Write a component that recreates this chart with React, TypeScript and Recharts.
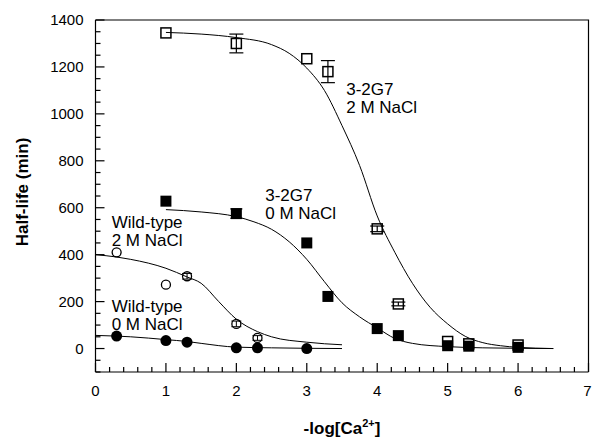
import React from "react";
import {
  ComposedChart,
  XAxis,
  YAxis,
  Line,
  Scatter,
  ErrorBar,
  ReferenceDot,
} from "recharts";

// tick labels
const xMajor = [0, 1, 2, 3, 4, 5, 6, 7];
const yMajor = [0, 200, 400, 600, 800, 1000, 1200, 1400];
const xMinor = Array.from({ length: 36 }, (_, i) => i / 5);
const yMinor = Array.from({ length: 31 }, (_, i) => -100 + i * 50);

// 3-2G7, 2 M NaCl (open squares)
const g7HighX = [1, 2, 3, 3.3, 4, 4.3, 5, 5.3, 6];
const g7HighY = [1345, 1300, 1235, 1180, 510, 190, 30, 20, 15];
const g7HighErr = [0, 40, 0, 47, 12, 8, 0, 0, 0];
const g7HighFitX = [1, 1.5, 2, 2.5, 2.75, 3, 3.25, 3.5, 3.75, 4, 4.25, 4.5, 4.75, 5, 5.25, 5.5, 5.75, 6, 6.5];
const g7HighFitY = [1347, 1340, 1325, 1295, 1258, 1195, 1100, 950, 780, 565, 410, 278, 176, 105, 52, 25, 12, 5, 0];

// 3-2G7, 0 M NaCl (filled squares)
const g7LowX = [1, 2, 3, 3.3, 4, 4.3, 5, 5.3, 6];
const g7LowY = [628, 575, 450, 222, 85, 55, 12, 10, 5];
const g7LowErr = [0, 20, 0, 0, 0, 0, 0, 0, 0];
const g7LowFitX = [1, 1.5, 2, 2.25, 2.5, 2.75, 3, 3.25, 3.5, 3.75, 4, 4.25, 4.5, 5, 5.5, 6, 6.5];
const g7LowFitY = [592, 582, 562, 540, 508, 455, 380, 285, 195, 135, 88, 43, 22, 8, 3, 1, 0];

// wild-type, 2 M NaCl (open circles)
const wtHighX = [0.3, 1, 1.3, 2, 2.3];
const wtHighY = [410, 272, 308, 105, 45];
const wtHighErr = [0, 0, 12, 12, 10];
const wtHighFitX = [0, 0.3, 0.5, 1, 1.3, 1.5, 1.75, 2, 2.3, 2.5, 3, 3.5];
const wtHighFitY = [400, 390, 380, 342, 305, 278, 200, 125, 72, 50, 27, 16];

// wild-type, 0 M NaCl (filled circles)
const wtLowX = [0.3, 1, 1.3, 2, 2.3, 3];
const wtLowY = [53, 34, 27, 3, 3, 0];
const wtLowFitX = [0, 0.3, 0.5, 1, 1.3, 1.5, 2, 2.5, 3, 3.5];
const wtLowFitY = [56, 53, 50, 38, 30, 22, 6, 3, 1, 0];

const pts = (xs: number[], ys: number[], errs?: number[]) =>
  xs.map((x, i) => ({ x, y: ys[i], err: errs ? errs[i] : 0 }));

// frame corners (top and right edges of the plot box)
const frameX = [0, 7, 7];
const frameY = [1400, 1400, -100];

const FONT = "'Liberation Sans', Arial, Helvetica, sans-serif";
const MAJOR = 9;
const MINOR = 5;

const xTickPts = xMinor.map((v) => ({ x: v, y: -100, major: Number.isInteger(v) }));
const yTickPts = yMinor.map((v) => ({ x: 0, y: v, major: v % 200 === 0 }));

const XTick = (props: any) => {
  const { x, y, payload } = props;
  return (
    <text
      x={payload.value === 7 ? x - 1 : x}
      y={y + 23.5}
      textAnchor="middle"
      fontSize={15}
      fontFamily={FONT}
      fill="#000"
    >
      {payload.value}
    </text>
  );
};

const YTick = (props: any) => {
  const { x, y, payload } = props;
  return (
    <text x={x - 12} y={y + 5} textAnchor="end" fontSize={15} fontFamily={FONT} fill="#000">
      {payload.value}
    </text>
  );
};

const isMajor = (p: any) => (p.payload && p.payload.major) || p.major;

// inward tick marks, placed through the scatter layer so they use the axis scales
const XMark = (p: any) => {
  const len = isMajor(p) ? MAJOR : MINOR;
  return <rect x={p.cx - 0.6} y={p.cy - len} width={1.2} height={len} fill="#000" />;
};
const YMark = (p: any) => {
  const len = isMajor(p) ? MAJOR : MINOR;
  return <rect x={p.cx} y={p.cy - 0.6} width={len} height={1.2} fill="#000" />;
};

const OpenSquare = (p: any) => (
  <rect x={p.cx - 5} y={p.cy - 5} width={10} height={10} fill="none" stroke="#000" strokeWidth={1.5} />
);
const FilledSquare = (p: any) => (
  <rect x={p.cx - 5.5} y={p.cy - 5.5} width={11} height={11} fill="#000" />
);
const OpenCircle = (p: any) => (
  <circle cx={p.cx} cy={p.cy} r={4.5} fill="none" stroke="#000" strokeWidth={1.3} />
);
const FilledCircle = (p: any) => <circle cx={p.cx} cy={p.cy} r={5.5} fill="#000" />;

const note = (l1: string, l2: string) => (props: any) => {
  const { viewBox } = props;
  return (
    <text x={viewBox.x} y={viewBox.y} fontSize={17} fontFamily={FONT} fill="#000">
      <tspan x={viewBox.x} dy={6}>{l1}</tspan>
      <tspan x={viewBox.x} dy={18}>{l2}</tspan>
    </text>
  );
};

export default function App() {
  return (
    <div style={{ position: "absolute", left: 0, top: 0, background: "#fff" }}>
      <ComposedChart width={592} height={439} margin={{ top: 20, right: 3.5, bottom: 0, left: 0 }}>
        <XAxis
          dataKey="x"
          type="number"
          domain={[0, 7]}
          ticks={xMajor}
          interval={0}
          tickSize={0}
          tickMargin={0}
          tickLine={false}
          tick={<XTick />}
          height={67}
          axisLine={{ stroke: "#000", strokeWidth: 1.2 }}
          label={() => (
            <text x={342} y={434} textAnchor="middle" fontSize={17} fontWeight="bold" fontFamily={FONT} fill="#000">
              -log[Ca
              <tspan fontSize={11} dy={-7}>2+</tspan>
              <tspan dy={7}>]</tspan>
            </text>
          )}
        />
        <YAxis
          dataKey="y"
          type="number"
          domain={[-100, 1400]}
          ticks={yMajor}
          interval={0}
          tickSize={0}
          tickMargin={0}
          tickLine={false}
          tick={<YTick />}
          width={95.5}
          axisLine={{ stroke: "#000", strokeWidth: 1.2 }}
          label={() => (
            <text
              x={28}
              y={192}
              transform="rotate(-90 28 192)"
              textAnchor="middle"
              fontSize={17}
              fontWeight="bold"
              fontFamily={FONT}
              fill="#000"
            >
              Half-life (min)
            </text>
          )}
        />

        <Line data={pts(frameX, frameY)} dataKey="y" type="linear" stroke="#000" strokeWidth={1.2} dot={false} isAnimationActive={false} />

        <Line data={pts(g7HighFitX, g7HighFitY)} dataKey="y" type="monotone" stroke="#000" strokeWidth={1} dot={false} isAnimationActive={false} />
        <Line data={pts(g7LowFitX, g7LowFitY)} dataKey="y" type="monotone" stroke="#000" strokeWidth={1} dot={false} isAnimationActive={false} />
        <Line data={pts(wtHighFitX, wtHighFitY)} dataKey="y" type="monotone" stroke="#000" strokeWidth={1} dot={false} isAnimationActive={false} />
        <Line data={pts(wtLowFitX, wtLowFitY)} dataKey="y" type="monotone" stroke="#000" strokeWidth={1} dot={false} isAnimationActive={false} />

        <Scatter data={xTickPts} dataKey="y" shape={XMark} isAnimationActive={false} />
        <Scatter data={yTickPts} dataKey="y" shape={YMark} isAnimationActive={false} />

        <Scatter data={pts(g7LowX, g7LowY, g7LowErr)} dataKey="y" shape={FilledSquare} isAnimationActive={false}>
          <ErrorBar dataKey="err" direction="y" width={6} stroke="#000" strokeWidth={1.2} />
        </Scatter>
        <Scatter data={pts(wtLowX, wtLowY)} dataKey="y" shape={FilledCircle} isAnimationActive={false} />
        <Scatter data={pts(g7HighX, g7HighY, g7HighErr)} dataKey="y" shape={OpenSquare} isAnimationActive={false}>
          <ErrorBar dataKey="err" direction="y" width={7} stroke="#000" strokeWidth={1.2} />
        </Scatter>
        <Scatter data={pts(wtHighX, wtHighY, wtHighErr)} dataKey="y" shape={OpenCircle} isAnimationActive={false}>
          <ErrorBar dataKey="err" direction="y" width={5} stroke="#000" strokeWidth={1} />
        </Scatter>

        <ReferenceDot x={3.56} y={1105} r={0} fill="none" stroke="none" label={note("3-2G7", "2 M NaCl")} />
        <ReferenceDot x={2.41} y={653} r={0} fill="none" stroke="none" label={note("3-2G7", "0 M NaCl")} />
        <ReferenceDot x={0.23} y={539} r={0} fill="none" stroke="none" label={note("Wild-type", "2 M NaCl")} />
        <ReferenceDot x={0.23} y={183} r={0} fill="none" stroke="none" label={note("Wild-type", "0 M NaCl")} />
      </ComposedChart>
    </div>
  );
}
